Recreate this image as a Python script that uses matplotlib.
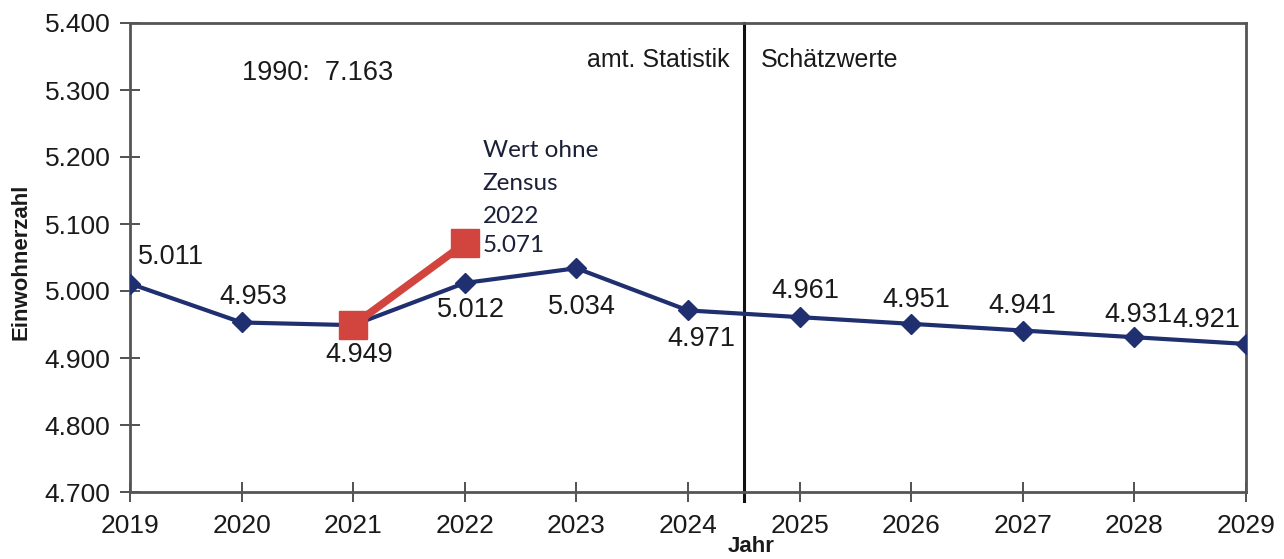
import matplotlib
matplotlib.use("Agg")
import matplotlib.pyplot as plt
from matplotlib.ticker import FuncFormatter

years = [2019, 2020, 2021, 2022, 2023, 2024, 2025, 2026, 2027, 2028, 2029]
values = [5.011, 4.953, 4.949, 5.012, 5.034, 4.971, 4.961, 4.951, 4.941, 4.931, 4.921]
labels = ["5.011", "4.953", "4.949", "5.012", "5.034", "4.971", "4.961", "4.951", "4.941", "4.931", "4.921"]
# label offsets in pixels relative to the point
label_dx = [41, 12, 6, 6, 6, 13, 6, 5, 0, 4, -40]
label_dy = [27, 25, -30, -27, -39, -29, 26, 24, 25, 22, 24]

census_years = [2021, 2022]
census_values = [4.949, 5.071]

yticks = [4.7, 4.8, 4.9, 5.0, 5.1, 5.2, 5.3, 5.4]

navy = "#1f2f6f"
red = "#d2453f"
textc = "#1a1a1a"

plt.rcParams['font.family'] = ['Liberation Sans', 'DejaVu Sans']

fig = plt.figure(figsize=(12.84, 5.59), dpi=100)
ax = fig.add_axes([130/1284, 1-492/559, (1246-130)/1284, (492-23)/559])

ax.plot(years, values, color=navy, lw=3, marker='D', ms=10.5, zorder=3)
ax.plot(census_years, census_values, color=red, lw=5.5, marker='s', ms=20, zorder=4)

for x, v, t, dx, dy in zip(years, values, labels, label_dx, label_dy):
    ax.annotate(t, (x, v), xytext=(dx, dy), textcoords='offset pixels',
                ha='center', va='center', fontsize=19.5, color=textc)

ax.annotate("Wert ohne\nZensus\n2022", (census_years[1], census_values[1]), xytext=(18, 16),
            textcoords='offset pixels', ha='left', va='bottom', fontsize=17.5,
            color='#1a2038', family=['Lato', 'DejaVu Sans'], linespacing=1.72)
ax.annotate("5.071", (census_years[1], census_values[1]), xytext=(18, -2),
            textcoords='offset pixels', ha='left', va='center', fontsize=17.5,
            color='#1a2038', family=['Lato', 'DejaVu Sans'])

ax.text(2020.0, 5.325, "1990:  7.163", fontsize=19.5, color=textc, ha='left', va='center')
ax.axvline(2024.5, color='#111111', lw=2.2, ymin=-0.02, ymax=1, clip_on=False, zorder=2)
ax.text(2024.37, 5.345, "amt. Statistik", fontsize=18, color=textc, ha='right', va='center')
ax.text(2024.65, 5.345, "Schätzwerte", fontsize=18, color=textc, ha='left', va='center')

ax.set_xlim(2019, 2029)
ax.set_ylim(4.7, 5.4)
ax.set_xticks(years)
ax.set_yticks(yticks)
ax.yaxis.set_major_formatter(FuncFormatter(lambda v, p: f"{v:.3f}"))
ax.tick_params(axis='both', direction='inout', length=14, width=1.2, colors='#333333',
               labelsize=19, labelcolor=textc)
ax.tick_params(axis='y', pad=7)
ax.tick_params(axis='x', pad=9)
for s in ax.spines.values():
    s.set_color('#555555')
    s.set_linewidth(2)

ax.set_ylabel("Einwohnerzahl", fontsize=16, fontweight='bold', color=textc)
ax.yaxis.set_label_coords(-0.0887, 0.491)
ax.set_xlabel("Jahr", fontsize=16, fontweight='bold', color=textc)
ax.xaxis.set_label_coords(0.557, -0.094)
ax.xaxis.label.set_va('top')

fig.savefig("out.png", dpi=100)
